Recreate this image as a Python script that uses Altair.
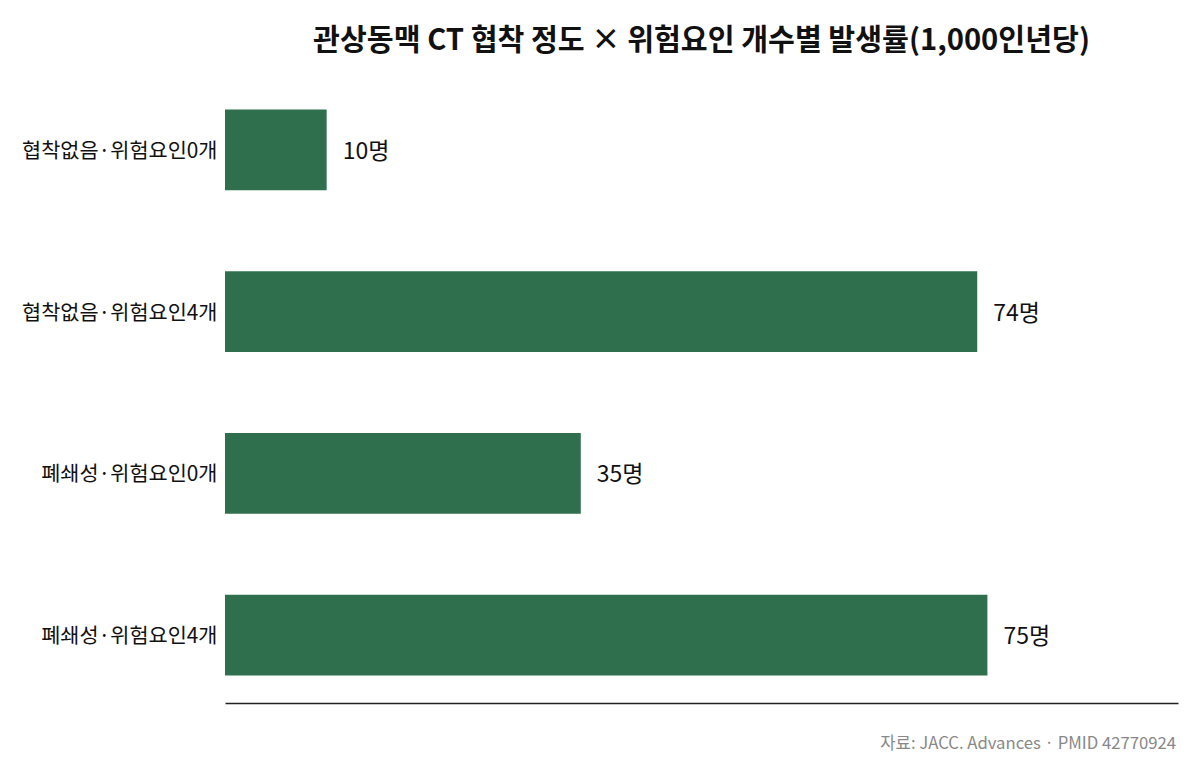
import altair as alt
import pandas as pd

categories = ["협착없음·위험요인0개", "협착없음·위험요인4개", "폐쇄성·위험요인0개", "폐쇄성·위험요인4개"]
values = [10, 74, 35, 75]
labels = ["10명", "74명", "35명", "75명"]

df = pd.DataFrame({"cat": categories, "val": values, "label": labels})

FONT = "Noto Sans CJK KR"
W, H = 953, 621

y_enc = alt.Y("cat:N", sort=categories, title=None,
              scale=alt.Scale(paddingInner=0.5, paddingOuter=0.17),
              axis=alt.Axis(domain=False, ticks=False, labelFontSize=20.8, labelColor="#111111",
                            labelFont=FONT, labelPadding=8, labelLimit=400, labelOffset=2))
x_enc = alt.X("val:Q", title=None, scale=alt.Scale(domain=[0, 93.75], nice=False),
              axis=alt.Axis(grid=False, labels=False, ticks=False, domain=True,
                            domainColor="#222222", domainWidth=1.5))

bars = alt.Chart(df).mark_bar(color="#2f6f4e").encode(x=x_enc, y=y_enc)
text = alt.Chart(df).mark_text(align="left", baseline="middle", dx=16, dy=2, fontSize=23,
                               font=FONT, color="#111111").encode(
    x="val:Q", y=alt.Y("cat:N", sort=categories), text="label:N")

src = alt.Chart(pd.DataFrame({"t": ["자료: JACC. Advances · PMID 42770924"]})).mark_text(
    align="right", baseline="middle", fontSize=16.7, font=FONT, color="#888888").encode(
    x=alt.value(W - 2), y=alt.value(H + 41), text="t:N")

chart = alt.layer(bars, text, src).properties(
    width=W, height=H,
    autosize=alt.AutoSizeParams(type="none"),
    padding={"left": 217, "top": 74, "right": 14, "bottom": 62},
    background="white",
    title=alt.TitleParams("관상동맥 CT 협착 정도 × 위험요인 개수별 발생률(1,000인년당)",
                          font=FONT, fontSize=29.2, fontWeight="bold", color="#111111",
                          anchor="middle", offset=26),
).configure_view(strokeWidth=0, stroke=None)

chart.save("out.html", embed_options={"renderer": "svg", "actions": False})
